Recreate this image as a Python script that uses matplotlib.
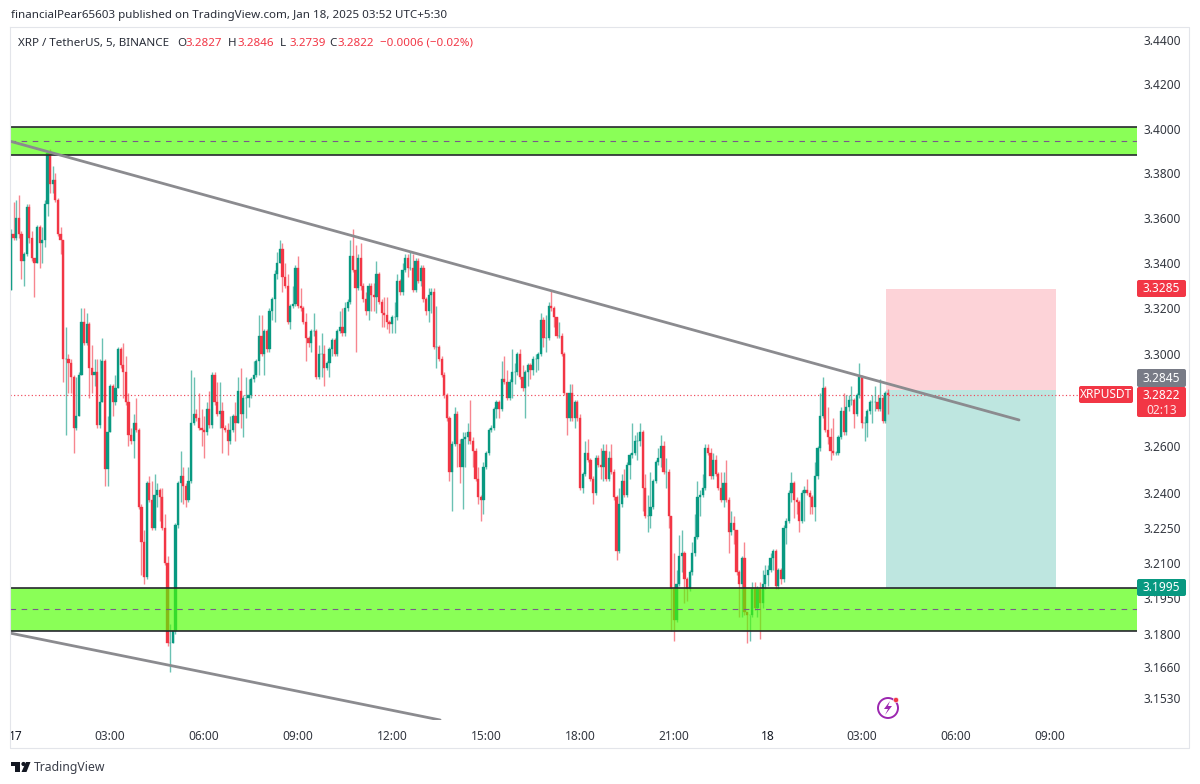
import matplotlib
matplotlib.use("Agg")
import matplotlib.pyplot as plt
from matplotlib.patches import Rectangle, Circle, Polygon, FancyBboxPatch
from matplotlib.ticker import NullLocator, NullFormatter

# 5 minute XRP/USDT candles
closes = [
    3.353, 3.351, 3.360, 3.353, 3.341, 3.344, 3.365, 3.351, 3.342, 3.340,
    3.356, 3.349, 3.350, 3.366, 3.389, 3.375, 3.377, 3.368, 3.353, 3.350,
    3.298, 3.298, 3.296, 3.290, 3.268, 3.273, 3.291, 3.314, 3.305, 3.313,
    3.294, 3.291, 3.292, 3.269, 3.279, 3.297, 3.250, 3.266, 3.286, 3.279,
    3.285, 3.302, 3.295, 3.292, 3.279, 3.265, 3.262, 3.270, 3.267, 3.234,
    3.219, 3.204, 3.244, 3.237, 3.225, 3.239, 3.241, 3.238, 3.225, 3.210,
    3.176, 3.176, 3.181, 3.226, 3.244, 3.247, 3.243, 3.237, 3.245, 3.270,
    3.274, 3.272, 3.268, 3.267, 3.266, 3.276, 3.269, 3.291, 3.279, 3.274,
    3.275, 3.268, 3.267, 3.262, 3.267, 3.273, 3.270, 3.284, 3.274, 3.281,
    3.281, 3.282, 3.289, 3.291, 3.297, 3.308, 3.300, 3.310, 3.302, 3.319,
    3.324, 3.335, 3.340, 3.346, 3.334, 3.330, 3.314, 3.321, 3.322, 3.338,
    3.321, 3.320, 3.314, 3.307, 3.305, 3.310, 3.310, 3.290, 3.300, 3.300,
    3.294, 3.296, 3.302, 3.306, 3.300, 3.310, 3.312, 3.309, 3.320, 3.323,
    3.343, 3.337, 3.329, 3.342, 3.330, 3.324, 3.319, 3.330, 3.326, 3.325,
    3.335, 3.323, 3.318, 3.317, 3.314, 3.313, 3.316, 3.316, 3.332, 3.327,
    3.337, 3.342, 3.338, 3.338, 3.328, 3.341, 3.332, 3.338, 3.324, 3.319,
    3.326, 3.327, 3.303, 3.303, 3.298, 3.291, 3.282, 3.272, 3.249, 3.261,
    3.274, 3.261, 3.251, 3.263, 3.264, 3.266, 3.262, 3.258, 3.246, 3.238,
    3.237, 3.251, 3.257, 3.267, 3.268, 3.276, 3.279, 3.276, 3.289, 3.288,
    3.281, 3.288, 3.292, 3.292, 3.300, 3.290, 3.285, 3.292, 3.295, 3.293,
    3.298, 3.298, 3.300, 3.315, 3.307, 3.307, 3.321, 3.320, 3.316, 3.308,
    3.308, 3.300, 3.283, 3.272, 3.283, 3.272, 3.279, 3.272, 3.242, 3.248,
    3.257, 3.254, 3.246, 3.240, 3.255, 3.252, 3.251, 3.258, 3.246, 3.255,
    3.249, 3.238, 3.215, 3.235, 3.245, 3.239, 3.252, 3.256, 3.257, 3.262,
    3.262, 3.266, 3.242, 3.230, 3.230, 3.234, 3.245, 3.253, 3.255, 3.260,
    3.249, 3.249, 3.230, 3.199, 3.186, 3.201, 3.213, 3.214, 3.203, 3.199,
    3.206, 3.214, 3.221, 3.238, 3.239, 3.242, 3.259, 3.257, 3.247, 3.254,
    3.248, 3.242, 3.237, 3.244, 3.237, 3.223, 3.227, 3.224, 3.206, 3.201,
    3.212, 3.189, 3.188, 3.188, 3.199, 3.191, 3.199, 3.193, 3.201, 3.205,
    3.207, 3.212, 3.215, 3.200, 3.207, 3.203, 3.225, 3.228, 3.240, 3.244,
    3.237, 3.236, 3.228, 3.240, 3.241, 3.240, 3.238, 3.234, 3.247, 3.259,
    3.273, 3.285, 3.267, 3.264, 3.258, 3.257, 3.257, 3.264, 3.275, 3.266,
    3.277, 3.280, 3.280, 3.274, 3.282, 3.290, 3.270, 3.270, 3.275, 3.279,
    3.279, 3.279, 3.276, 3.281, 3.271, 3.283, 3.2822,
]
highs = [
    3.355, 3.367, 3.368, 3.370, 3.354, 3.345, 3.366, 3.366, 3.354, 3.342,
    3.357, 3.357, 3.356, 3.368, 3.390, 3.391, 3.383, 3.380, 3.369, 3.356,
    3.350, 3.312, 3.300, 3.298, 3.291, 3.290, 3.292, 3.320, 3.320, 3.318,
    3.314, 3.304, 3.298, 3.298, 3.298, 3.307, 3.298, 3.273, 3.287, 3.287,
    3.291, 3.303, 3.303, 3.305, 3.299, 3.283, 3.268, 3.274, 3.281, 3.268,
    3.235, 3.224, 3.245, 3.247, 3.245, 3.248, 3.244, 3.242, 3.242, 3.231,
    3.213, 3.184, 3.181, 3.227, 3.245, 3.258, 3.251, 3.244, 3.251, 3.293,
    3.290, 3.276, 3.283, 3.276, 3.273, 3.279, 3.284, 3.292, 3.292, 3.288,
    3.288, 3.279, 3.269, 3.270, 3.273, 3.274, 3.279, 3.290, 3.294, 3.282,
    3.290, 3.289, 3.290, 3.297, 3.298, 3.317, 3.317, 3.311, 3.311, 3.320,
    3.325, 3.337, 3.345, 3.350, 3.349, 3.340, 3.335, 3.322, 3.330, 3.339,
    3.343, 3.329, 3.321, 3.318, 3.308, 3.311, 3.318, 3.311, 3.304, 3.309,
    3.304, 3.297, 3.303, 3.307, 3.307, 3.311, 3.319, 3.320, 3.323, 3.324,
    3.350, 3.355, 3.348, 3.344, 3.349, 3.331, 3.327, 3.331, 3.331, 3.331,
    3.341, 3.336, 3.324, 3.325, 3.325, 3.315, 3.317, 3.323, 3.335, 3.333,
    3.340, 3.344, 3.344, 3.345, 3.344, 3.342, 3.342, 3.339, 3.339, 3.325,
    3.329, 3.329, 3.329, 3.321, 3.304, 3.299, 3.292, 3.283, 3.273, 3.262,
    3.277, 3.275, 3.263, 3.266, 3.266, 3.270, 3.280, 3.264, 3.259, 3.251,
    3.239, 3.253, 3.258, 3.268, 3.269, 3.277, 3.280, 3.280, 3.297, 3.299,
    3.293, 3.289, 3.302, 3.296, 3.301, 3.302, 3.295, 3.293, 3.296, 3.296,
    3.299, 3.300, 3.301, 3.318, 3.316, 3.317, 3.323, 3.328, 3.321, 3.316,
    3.314, 3.309, 3.301, 3.283, 3.287, 3.287, 3.280, 3.280, 3.274, 3.249,
    3.262, 3.263, 3.255, 3.247, 3.256, 3.256, 3.259, 3.261, 3.261, 3.258,
    3.261, 3.250, 3.239, 3.242, 3.248, 3.250, 3.253, 3.257, 3.270, 3.265,
    3.266, 3.270, 3.267, 3.248, 3.239, 3.249, 3.246, 3.254, 3.259, 3.265,
    3.262, 3.255, 3.250, 3.230, 3.214, 3.207, 3.222, 3.224, 3.215, 3.204,
    3.207, 3.219, 3.231, 3.245, 3.241, 3.248, 3.261, 3.261, 3.259, 3.257,
    3.256, 3.249, 3.249, 3.249, 3.254, 3.238, 3.232, 3.230, 3.224, 3.207,
    3.213, 3.219, 3.189, 3.188, 3.202, 3.202, 3.200, 3.202, 3.207, 3.209,
    3.209, 3.214, 3.216, 3.216, 3.208, 3.208, 3.226, 3.229, 3.241, 3.249,
    3.245, 3.238, 3.237, 3.241, 3.243, 3.246, 3.241, 3.239, 3.253, 3.260,
    3.283, 3.290, 3.286, 3.277, 3.268, 3.272, 3.258, 3.265, 3.277, 3.283,
    3.282, 3.282, 3.286, 3.281, 3.283, 3.296, 3.291, 3.273, 3.276, 3.280,
    3.282, 3.286, 3.282, 3.289, 3.282, 3.284, 3.2846,
]
lows = [
    3.328, 3.350, 3.350, 3.351, 3.333, 3.330, 3.343, 3.349, 3.341, 3.325,
    3.340, 3.338, 3.340, 3.347, 3.361, 3.371, 3.371, 3.367, 3.352, 3.344,
    3.288, 3.265, 3.283, 3.283, 3.257, 3.267, 3.273, 3.291, 3.304, 3.304,
    3.281, 3.283, 3.286, 3.268, 3.268, 3.279, 3.243, 3.243, 3.266, 3.273,
    3.278, 3.285, 3.294, 3.281, 3.278, 3.260, 3.261, 3.255, 3.266, 3.233,
    3.205, 3.201, 3.203, 3.236, 3.224, 3.224, 3.234, 3.228, 3.224, 3.209,
    3.175, 3.164, 3.176, 3.180, 3.225, 3.236, 3.235, 3.234, 3.236, 3.244,
    3.269, 3.271, 3.267, 3.260, 3.255, 3.265, 3.268, 3.268, 3.278, 3.273,
    3.268, 3.257, 3.266, 3.256, 3.261, 3.266, 3.262, 3.270, 3.268, 3.264,
    3.272, 3.277, 3.281, 3.288, 3.290, 3.291, 3.299, 3.291, 3.301, 3.301,
    3.315, 3.314, 3.333, 3.340, 3.327, 3.329, 3.313, 3.311, 3.320, 3.321,
    3.320, 3.319, 3.313, 3.297, 3.303, 3.301, 3.308, 3.289, 3.289, 3.290,
    3.286, 3.293, 3.290, 3.299, 3.299, 3.299, 3.309, 3.308, 3.308, 3.319,
    3.322, 3.336, 3.301, 3.328, 3.328, 3.323, 3.317, 3.315, 3.319, 3.319,
    3.318, 3.322, 3.312, 3.312, 3.311, 3.309, 3.309, 3.309, 3.315, 3.326,
    3.326, 3.336, 3.334, 3.337, 3.327, 3.327, 3.331, 3.330, 3.323, 3.317,
    3.314, 3.318, 3.302, 3.294, 3.297, 3.290, 3.281, 3.271, 3.245, 3.232,
    3.260, 3.251, 3.244, 3.233, 3.251, 3.261, 3.261, 3.251, 3.245, 3.235,
    3.228, 3.231, 3.250, 3.256, 3.266, 3.267, 3.272, 3.272, 3.275, 3.287,
    3.280, 3.280, 3.281, 3.287, 3.291, 3.289, 3.284, 3.272, 3.286, 3.289,
    3.291, 3.292, 3.293, 3.299, 3.303, 3.301, 3.306, 3.319, 3.312, 3.307,
    3.307, 3.299, 3.282, 3.265, 3.271, 3.271, 3.268, 3.271, 3.241, 3.240,
    3.247, 3.253, 3.245, 3.235, 3.239, 3.251, 3.246, 3.245, 3.245, 3.245,
    3.248, 3.237, 3.211, 3.214, 3.234, 3.238, 3.238, 3.246, 3.255, 3.256,
    3.254, 3.260, 3.232, 3.229, 3.223, 3.225, 3.233, 3.244, 3.252, 3.251,
    3.248, 3.242, 3.225, 3.181, 3.177, 3.185, 3.200, 3.206, 3.193, 3.194,
    3.198, 3.205, 3.213, 3.220, 3.230, 3.238, 3.241, 3.256, 3.246, 3.246,
    3.247, 3.241, 3.236, 3.234, 3.236, 3.214, 3.222, 3.218, 3.205, 3.187,
    3.187, 3.188, 3.176, 3.177, 3.187, 3.190, 3.187, 3.178, 3.191, 3.199,
    3.200, 3.206, 3.207, 3.199, 3.199, 3.201, 3.202, 3.218, 3.227, 3.236,
    3.229, 3.231, 3.223, 3.227, 3.228, 3.239, 3.231, 3.231, 3.228, 3.246,
    3.258, 3.272, 3.266, 3.261, 3.254, 3.256, 3.256, 3.256, 3.263, 3.265,
    3.265, 3.275, 3.278, 3.268, 3.273, 3.281, 3.268, 3.262, 3.264, 3.274,
    3.270, 3.275, 3.275, 3.275, 3.270, 3.270, 3.2739,
]
first_open = 3.328

price_ticks = [3.44, 3.42, 3.40, 3.38, 3.36, 3.34, 3.32, 3.30, 3.26, 3.24,
               3.225, 3.21, 3.195, 3.18, 3.166, 3.153]
time_ticks = [2, 38, 74, 110, 146, 182, 218, 254, 290, 326, 362, 398]
time_labels = ["17", "03:00", "06:00", "09:00", "12:00", "15:00", "18:00",
               "21:00", "18", "03:00", "06:00", "09:00"]

# zones and drawings (prices)
upper_zone = (3.3881, 3.4007, 3.3943)
lower_zone = (3.1812, 3.1995, 3.1905)
entry_price = 3.2845
stop_price = 3.3285
target_price = 3.1995
last_price = 3.2822
position_bars = (335.2, 400.4)
upper_trend = ([-0.4, 386.2], [3.3943, 3.2713])
lower_trend = ([-0.4, 164.4], [3.1803, 3.1439])

UP = "#089981"
DOWN = "#F23645"
TEXT = "#333740"
plt.rcParams["font.family"] = ["Noto Sans", "DejaVu Sans"]

W, H = 1200, 784
fig = plt.figure(figsize=(12, 7.84), dpi=100, facecolor="white")

# main price pane, 10..1137 px wide and 27..720 px tall
ax = fig.add_axes([10 / W, 1 - 720 / H, 1127 / W, 693 / H])
ax.set_yscale("log")
ax.set_xlim(-0.38, 431.4)
ax.set_ylim(3.1439, 3.4460)
for s in ax.spines.values():
    s.set_visible(False)

# risk/reward box sits behind the candles
x0, x1 = position_bars
ax.add_patch(Rectangle((x0, entry_price), x1 - x0, stop_price - entry_price,
                       fc="#FDD3D8", ec="none", zorder=1))
ax.add_patch(Rectangle((x0, target_price), x1 - x0, entry_price - target_price,
                       fc="#BEE6E0", ec="none", zorder=1))

ax.hlines(last_price, -0.38, 409, color="#F0485A", lw=0.85, ls=(0, (1, 2)), zorder=1.5)

opens = [first_open] + closes[:-1]
for i, (o, h, l, c) in enumerate(zip(opens, highs, lows, closes)):
    col = UP if c >= o else DOWN
    ax.vlines(i, l, h, color=col, lw=1.0, alpha=0.6, zorder=2)
    ax.bar(i, abs(c - o), bottom=min(o, c), width=0.85, color=col,
           edgecolor=col, linewidth=0.25, zorder=2.2)

# green zones, see-through so the candles show
for lo, hi, mid in (upper_zone, lower_zone):
    ax.axhspan(lo, hi, fc="#4DFF00", alpha=0.66, ec="none", zorder=3)
    ax.axhline(lo, color="#26282e", lw=1.2, zorder=3.2)
    ax.axhline(hi, color="#26282e", lw=1.2, zorder=3.2)
    ax.axhline(mid, color="#7a5a8a", lw=0.8, ls=(0, (5, 5)), zorder=3.2)

ax.plot(*upper_trend, color="#8b8b8f", lw=2.0, zorder=4, solid_capstyle="round")
ax.plot(*lower_trend, color="#8b8b8f", lw=2.0, zorder=4, solid_capstyle="round")

ax.yaxis.tick_right()
ax.yaxis.set_minor_locator(NullLocator())
ax.yaxis.set_minor_formatter(NullFormatter())
ax.set_yticks(price_ticks)
ax.set_yticklabels([f"{p:.4f}" for p in price_ticks])
ax.tick_params(axis="y", length=0, pad=5, labelsize=8.6, labelcolor=TEXT)
ax.set_xticks(time_ticks)
ax.set_xticklabels(time_labels)
ax.tick_params(axis="x", length=0, pad=7, labelsize=8.6, labelcolor=TEXT)
for lab in ax.get_xticklabels():
    if lab.get_text() in ("17", "18"):
        lab.set_fontweight("bold")
        lab.set_color("#131722")

# overlay in pixel coordinates for tags, header and logos
ov = fig.add_axes([0, 0, 1, 1], facecolor="none")
ov.set_xlim(0, W)
ov.set_ylim(H, 0)
ov.axis("off")

ov.plot([10, 10, 1189, 1189, 10], [27, 748, 748, 27, 27], color="#E3E5EA", lw=0.8)


def tag(x0, x1, y0, y1, color, label, sub=None):
    ov.add_patch(FancyBboxPatch((x0, y0), x1 - x0, y1 - y0, boxstyle="round,pad=0,rounding_size=2",
                                fc=color, ec="none", zorder=5))
    if sub is None:
        ov.text((x0 + x1) / 2, (y0 + y1) / 2, label, color="white", fontsize=8.6,
                ha="center", va="center", zorder=6)
    else:
        ov.text((x0 + x1) / 2, y0 + 8.5, label, color="white", fontsize=8.6,
                ha="center", va="center", zorder=6)
        ov.text((x0 + x1) / 2, y0 + 23, sub, color="#FFE3E6", fontsize=8.6,
                ha="center", va="center", zorder=6)


tag(1137, 1186, 280, 297, DOWN, f"{stop_price:.4f}")
tag(1137, 1186, 369, 387, "#787B86", f"{entry_price:.4f}")
tag(1137, 1186, 387, 417, DOWN, f"{last_price:.4f}", "02:13")
tag(1079, 1133, 386, 403, DOWN, "XRPUSDT")
tag(1137, 1186, 579, 596, UP, f"{target_price:.4f}")

# header and legend
ov.text(11, 15.5, "financialPear65603 published on TradingView.com, Jan 18, 2025 03:52 UTC+5:30",
        fontsize=8.35, color="#2a2e39", va="center")
ov.text(18, 43, "XRP / TetherUS, 5, BINANCE", fontsize=8.35, color="#2a2e39", va="center")
for x, head, val in [(177, "O", "3.2827"), (228, "H", "3.2846"),
                     (280, "L", "3.2739"), (329, "C", "3.2822")]:
    ov.text(x, 43, head, fontsize=8.35, color="#2a2e39", va="center")
    ov.text(x + 9, 43, val, fontsize=8.35, color=DOWN, va="center")
ov.text(380, 43, "\u22120.0006 (\u22120.02%)", fontsize=8.3, color=DOWN, va="center")

# TradingView mark
ov.add_patch(Polygon([(10.5, 762), (20, 762), (20, 772), (14.5, 772), (14.5, 766), (10.5, 766)],
                     fc="#131722", ec="none"))
ov.add_patch(Circle((23.5, 764), 2.1, fc="#131722", ec="none"))
ov.add_patch(Polygon([(26, 762), (30.5, 762), (26.5, 772), (21.5, 772)], fc="#131722", ec="none"))
ov.text(34, 767, "TradingView", fontsize=8.8, color="#3a3e49", va="center")

# purple flash icon
ov.add_patch(Circle((888, 708), 10, fc="none", ec="#9C27B0", lw=1.4, zorder=6))
ov.add_patch(Polygon([(890, 701), (884, 709), (888, 709), (885, 715), (892, 706), (888, 706)],
                     fc="#9C27B0", ec="none", zorder=6))
ov.add_patch(Circle((896, 700), 2.6, fc=DOWN, ec="white", lw=0.4, zorder=7))

fig.savefig("out.png", dpi=100)
